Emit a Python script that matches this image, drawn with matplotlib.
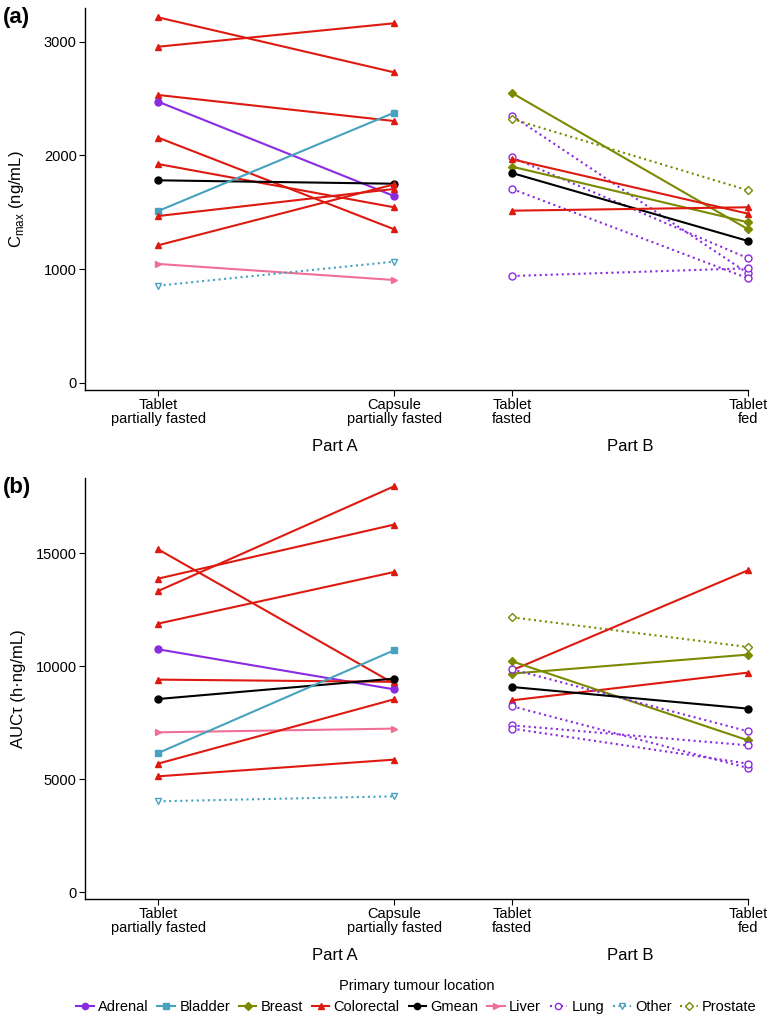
import numpy as np
import matplotlib
matplotlib.use('Agg')
from matplotlib import pyplot as plt
from matplotlib.lines import Line2D

plt.rcParams['font.family'] = ['Liberation Sans', 'DejaVu Sans']

# x positions of the four conditions
cond_x      = [0, 2, 3, 5]
cond_labels = ['Tablet\npartially fasted', 'Capsule\npartially fasted', 'Tablet\nfasted', 'Tablet\nfed']

# Cmax, part A (tablet partially fasted -> capsule partially fasted)
cmax_a_group = ['Colorectal', 'Colorectal', 'Colorectal', 'Adrenal', 'Colorectal', 'Colorectal',
                'Gmean', 'Bladder', 'Colorectal', 'Colorectal', 'Liver', 'Other']
cmax_a_first = [3213, 2955, 2531, 2472, 2156, 1924, 1781, 1511, 1467, 1210, 1046, 855]
cmax_a_second = [2730, 3161, 2302, 1643, 1351, 1544, 1751, 2375, 1705, 1745, 905, 1066]

# Cmax, part B (tablet fasted -> tablet fed)
cmax_b_group = ['Breast', 'Lung', 'Prostate', 'Lung', 'Colorectal', 'Breast', 'Gmean',
                'Lung', 'Colorectal', 'Lung']
cmax_b_first = [2548, 2349, 2320, 1983, 1966, 1901, 1845, 1705, 1514, 940]
cmax_b_second = [1351, 964, 1693, 1096, 1488, 1412, 1248, 920, 1544, 1008]

# AUCtau, part A
auc_a_group = ['Colorectal', 'Colorectal', 'Colorectal', 'Colorectal', 'Adrenal', 'Colorectal',
               'Gmean', 'Liver', 'Bladder', 'Colorectal', 'Colorectal', 'Other']
auc_a_first = [15163, 13867, 13319, 11876, 10739, 9398, 8540, 7066, 6150, 5681, 5119, 4013]
auc_a_second = [9221, 16256, 17951, 14159, 8969, 9300, 9442, 7230, 10695, 8527, 5858, 4235]

# AUCtau, part B
auc_b_group = ['Prostate', 'Colorectal', 'Colorectal', 'Breast', 'Breast', 'Lung', 'Gmean',
               'Lung', 'Lung', 'Lung']
auc_b_first = [12155, 9810, 8482, 10208, 9664, 9854, 9071, 8217, 7376, 7230]
auc_b_second = [10841, 14235, 9708, 6712, 10504, 7111, 8115, 5487, 6491, 5681]

legend_order = ['Adrenal', 'Bladder', 'Breast', 'Colorectal', 'Gmean', 'Liver', 'Lung', 'Other', 'Prostate']

# color, marker, filled, linestyle
styles = {
    'Adrenal':    ('#8a2be2', 'o', True, '-'),
    'Bladder':    ('#45a3bf', 's', True, '-'),
    'Breast':     ('#7b8a00', 'D', True, '-'),
    'Colorectal': ('#de1a10', '^', True, '-'),
    'Gmean':      ('#000000', 'o', True, '-'),
    'Liver':      ('#f06f95', '>', True, '-'),
    'Lung':       ('#8a2be2', 'o', False, ':'),
    'Other':      ('#45a3bf', 'v', False, ':'),
    'Prostate':   ('#7b8a00', 'D', False, ':'),
}


def draw_pairs(ax, groups, first, second, x0, x1):
    for g, v0, v1 in zip(groups, first, second):
        c, m, filled, ls = styles[g]
        ms = 4.2 if m == 'D' else 5
        ax.plot([x0, x1], [v0, v1], color=c, ls=ls, lw=1.5, marker=m, ms=ms,
                mfc=c if filled else 'white', mec=c, mew=1.0, clip_on=False, zorder=3)


def style_axes(ax, ylabel, ymin, ymax, yticks):
    ax.set_xlim(-0.62, 5.0)
    ax.set_ylim(ymin, ymax)
    ax.set_yticks(yticks)
    ax.set_xticks(cond_x)
    ax.set_xticklabels(cond_labels, fontsize=10.5, linespacing=1.0)
    ax.tick_params(axis='y', labelsize=10.5, length=4, width=0.8, pad=2)
    ax.tick_params(axis='x', length=4, width=0.8, pad=2)
    for s in ['top', 'right']:
        ax.spines[s].set_visible(False)
    for s in ['left', 'bottom']:
        ax.spines[s].set_linewidth(1.0)
    ax.set_ylabel(ylabel, fontsize=12)
    ax.yaxis.set_label_coords(-0.089, 0.5)
    for xc, txt in [(1.5, 'Part A'), (4.0, 'Part B')]:
        ax.annotate(txt, xy=(xc, 0), xycoords=('data', 'axes fraction'),
                    xytext=(0, -41), textcoords='offset points',
                    ha='center', va='center', fontsize=12)


fig = plt.figure(figsize=(7.67, 10.17), dpi=100)
ax1 = fig.add_axes([0.1108, 0.6165, 0.8644, 0.3756])
ax2 = fig.add_axes([0.1108, 0.1160, 0.8644, 0.4140])

draw_pairs(ax1, cmax_a_group, cmax_a_first, cmax_a_second, cond_x[0], cond_x[1])
draw_pairs(ax1, cmax_b_group, cmax_b_first, cmax_b_second, cond_x[2], cond_x[3])
style_axes(ax1, r'C$_{\mathregular{max}}$ (ng/mL)', -62, 3295, [0, 1000, 2000, 3000])

draw_pairs(ax2, auc_a_group, auc_a_first, auc_a_second, cond_x[0], cond_x[1])
draw_pairs(ax2, auc_b_group, auc_b_first, auc_b_second, cond_x[2], cond_x[3])
style_axes(ax2, 'AUCτ (h·ng/mL)', -310, 18319, [0, 5000, 10000, 15000])

fig.text(0.004, 1 - 17 / 1017, '(a)', fontsize=16, fontweight='bold', va='center')
fig.text(0.004, 1 - 487 / 1017, '(b)', fontsize=16, fontweight='bold', va='center')

handles = []
for g in legend_order:
    c, m, filled, ls = styles[g]
    handles.append(Line2D([], [], color=c, ls=ls, lw=1.5, marker=m, ms=4.5 if m != 'D' else 4,
                          mfc=c if filled else 'white', mec=c, mew=1.0))
leg = fig.legend(handles, legend_order, loc='lower center', bbox_to_anchor=(0.543, -0.006),
                 ncol=9, frameon=False, fontsize=10.5, title='Primary tumour location',
                 title_fontsize=10.5, handlelength=1.2, handletextpad=0.3,
                 columnspacing=0.6, borderaxespad=0.2)

plt.savefig('out.png', dpi=100)
